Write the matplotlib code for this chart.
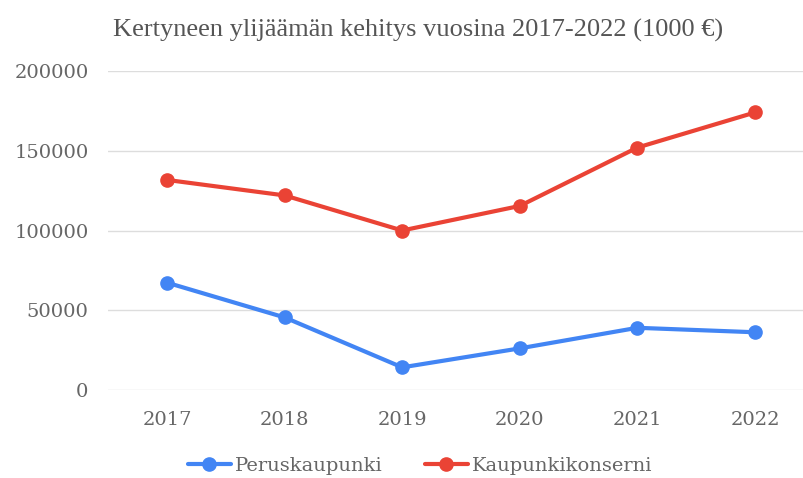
import matplotlib.pyplot as plt

years = ["2017", "2018", "2019", "2020", "2021", "2022"]
peruskaupunki = [67300, 45500, 14200, 26100, 39000, 36200]
kaupunkikonserni = [131700, 122000, 100000, 115400, 152000, 174000]
yticks = [0, 50000, 100000, 150000, 200000]

plt.rcParams["font.family"] = ["DejaVu Serif"]
text_col = "#666666"

fig = plt.figure(figsize=(8.04, 4.78), dpi=100)
ax = fig.add_axes([108 / 804, 1 - 390 / 478, 696 / 804, 319 / 478])

x = range(len(years))
ax.plot(x, peruskaupunki, color="#4285F4", lw=3, marker="o", ms=9.5,
        label="Peruskaupunki", solid_capstyle="round", zorder=3)
ax.plot(x, kaupunkikonserni, color="#EA4335", lw=3, marker="o", ms=9.5,
        label="Kaupunkikonserni", solid_capstyle="round", zorder=3)

ax.set_ylim(0, 200000)
ax.set_xlim(-0.502, 5.417)
ax.set_yticks(yticks)
ax.set_yticklabels([str(v) for v in yticks])
ax.set_xticks(list(x))
ax.set_xticklabels(years)
ax.grid(axis="y", color="#dddddd", lw=1)
ax.set_axisbelow(True)
for s in ax.spines.values():
    s.set_visible(False)
ax.tick_params(length=0, labelsize=14, colors=text_col)
ax.tick_params(axis="y", pad=14)
ax.tick_params(axis="x", pad=15)

# title font looks condensed compared with the tick labels
fig.text(418 / 804, 1 - 30 / 478, "Kertyneen ylijäämän kehitys vuosina 2017-2022 (1000 €)",
         ha="center", va="center", fontsize=19, color="#555555",
         family=["Liberation Serif", "DejaVu Serif"])

fig.legend(loc="center", bbox_to_anchor=(420 / 804, 1 - 466 / 478), ncol=2, frameon=False,
           fontsize=14, labelcolor=text_col, handlelength=2.2, handletextpad=0.2,
           columnspacing=2.2)

fig.savefig("out.png", dpi=100)
